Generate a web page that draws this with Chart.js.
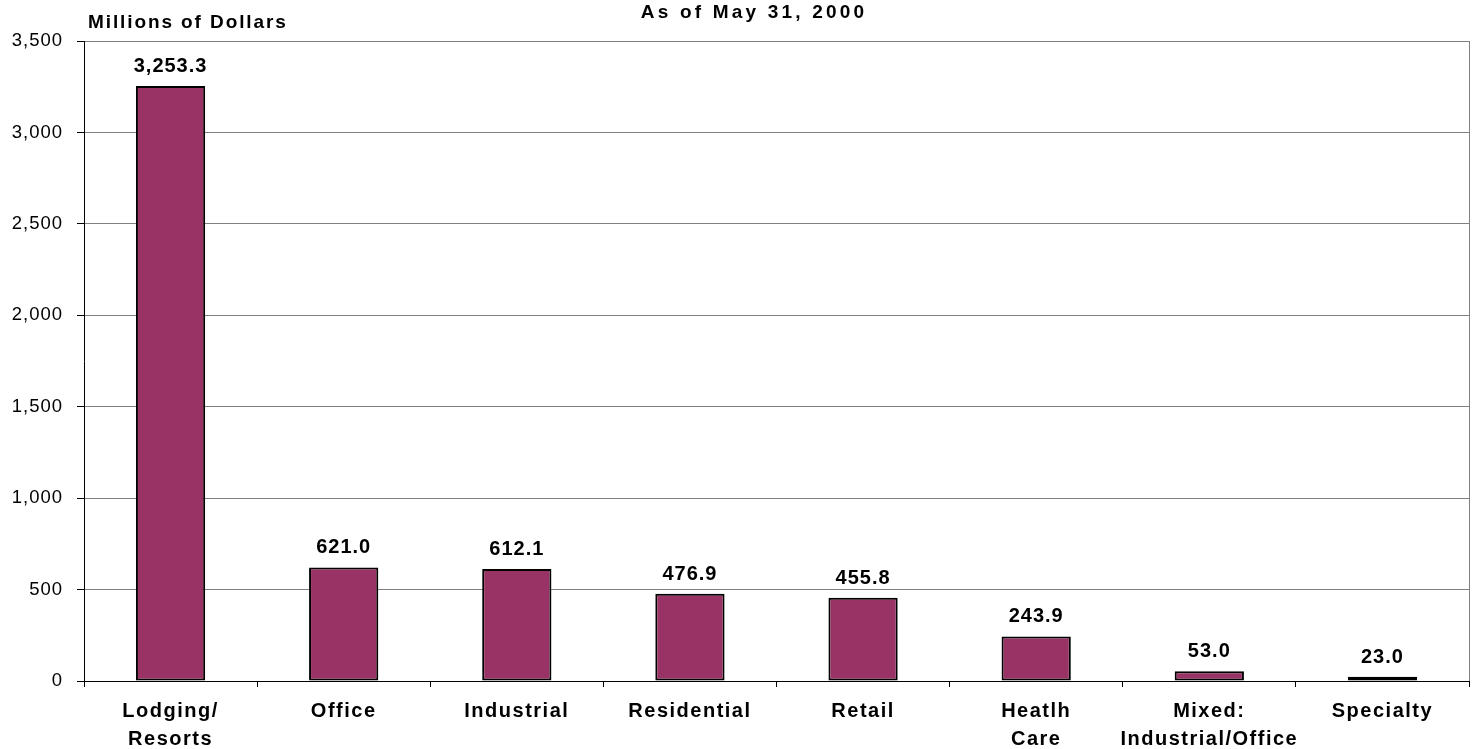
<!DOCTYPE html>
<html>
<head>
<meta charset="utf-8">
<script src="https://cdn.jsdelivr.net/npm/chart.js@4/dist/chart.umd.min.js"></script>
<style>
  html, body { margin: 0; padding: 0; background: #fff; }
  #wrap { width: 1473px; height: 749px; position: relative; }
</style>
</head>
<body>
<div id="wrap"><canvas id="myChart"></canvas></div>
<script>
// values, millions of dollars
var categories = [
  ['Lodging/', 'Resorts'],
  'Office',
  'Industrial',
  'Residential',
  'Retail',
  ['Heatlh', 'Care'],
  ['Mixed:', 'Industrial/Office'],
  'Specialty'
];
var amounts = [3253.3, 621.0, 612.1, 476.9, 455.8, 243.9, 53.0, 23.0];
var yTicks = [0, 500, 1000, 1500, 2000, 2500, 3000, 3500];

var titleText = 'As of May 31, 2000';
var axisText = 'Millions of Dollars';
var FONT = '"Liberation Sans", Arial, sans-serif';

// excel-ish letter spacing on the axis labels
var spacingPlugin = {
  id: 'spacing',
  beforeDraw: function(chart) {
    ['x', 'y'].forEach(function(id) {
      var s = chart.scales[id];
      if (!s || s._spaced) return;
      var orig = s.drawLabels;
      s.drawLabels = function(area) {
        var c = this.ctx;
        c.save();
        c.letterSpacing = id === 'x' ? '1.5px' : '1px';
        orig.call(this, area);
        c.restore();
      };
      s._spaced = true;
    });
  }
};

var labelsPlugin = {
  id: 'barLabels',
  afterDatasetsDraw: function(chart) {
    var ctx = chart.ctx;
    var meta = chart.getDatasetMeta(0);
    ctx.save();
    ctx.letterSpacing = '1px';
    ctx.font = 'bold 20px ' + FONT;
    ctx.fillStyle = '#000';
    ctx.textAlign = 'center';
    ctx.textBaseline = 'alphabetic';
    meta.data.forEach(function(bar, i) {
      var txt = amounts[i].toLocaleString('en-US', {minimumFractionDigits: 1, maximumFractionDigits: 1});
      ctx.fillText(txt, bar.x, bar.y - 14);
    });
    ctx.restore();
  },
  afterDraw: function(chart) {
    var ctx = chart.ctx;
    var a = chart.chartArea;
    ctx.save();
    // right edge of plot area
    ctx.strokeStyle = '#808080';
    ctx.lineWidth = 1;
    ctx.beginPath();
    ctx.moveTo(a.right + 0.5, a.top);
    ctx.lineTo(a.right + 0.5, a.bottom);
    ctx.stroke();

    ctx.fillStyle = '#000';
    ctx.textBaseline = 'alphabetic';
    ctx.font = 'bold 19px ' + FONT;
    ctx.letterSpacing = '3.2px';
    ctx.textAlign = 'center';
    ctx.fillText(titleText, 754, 18);
    ctx.letterSpacing = '1.9px';
    ctx.textAlign = 'left';
    ctx.fillText(axisText, 88, 28);
    ctx.restore();
  }
};

var myChart = new Chart(document.getElementById('myChart'), {
  type: 'bar',
  data: {
    labels: categories,
    datasets: [{
      data: amounts,
      backgroundColor: '#993366',
      borderColor: '#000000',
      borderWidth: 2,
      borderSkipped: false,
      barPercentage: 0.4,
      categoryPercentage: 1.0
    }]
  },
  options: {
    responsive: true,
    maintainAspectRatio: false,
    animation: false,
    layout: { padding: { top: 41, right: 4, left: 0, bottom: 0 } },
    plugins: {
      legend: { display: false },
      tooltip: { enabled: false },
      title: { display: false }
    },
    scales: {
      x: {
        grid: { display: true, drawOnChartArea: false, offset: true, tickLength: 6, color: '#000' },
        border: { color: '#000', width: 1 },
        ticks: {
          color: '#000',
          padding: 10,
          maxRotation: 0,
          autoSkip: false,
          font: { family: FONT, size: 20, weight: 'bold', lineHeight: 1.4 }
        },
        afterFit: function(s) { s.height = 68; }
      },
      y: {
        min: 0,
        max: 3500,
        afterBuildTicks: function(s) { s.ticks = yTicks.map(function(v) { return { value: v }; }); },
        grid: { color: '#808080', tickColor: '#000', tickLength: 7, lineWidth: 1 },
        border: { color: '#000', width: 1 },
        ticks: {
          color: '#000',
          padding: 14,
          font: { family: FONT, size: 18.5 },
          callback: function(v) { return Number(v).toLocaleString('en-US'); }
        },
        afterFit: function(s) { s.width = 84; }
      }
    }
  },
  plugins: [spacingPlugin, labelsPlugin]
});
</script>
</body>
</html>
